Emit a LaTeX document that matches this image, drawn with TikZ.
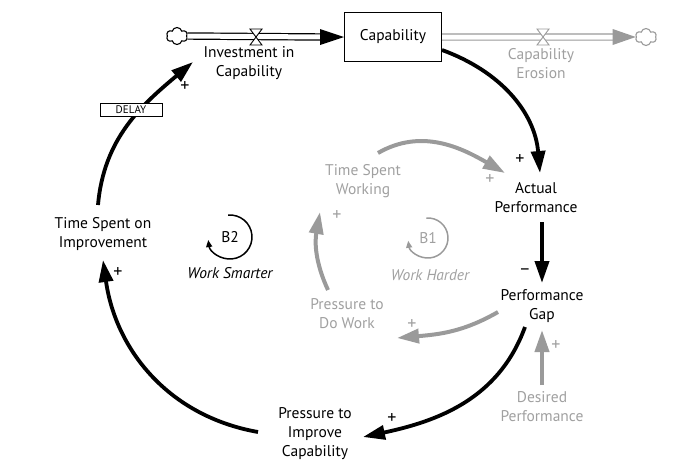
\documentclass[tikz,border=0pt]{standalone}
\usepackage{fontspec}
\setmainfont{PT Sans}
\usetikzlibrary{arrows.meta,calc,shapes.symbols}
\definecolor{gr}{HTML}{9A9A9A}
\definecolor{grt}{HTML}{A0A0A0}
\begin{document}
\begin{tikzpicture}[x=1pt,y=1pt,
 lbl/.style={align=center, font=\fontsize{15.5}{19}\selectfont, inner sep=1pt},
 glbl/.style={lbl, text=grt},
 blk/.style={line width=3.8pt, -{Triangle[length=22pt,width=14pt]}},
 gry/.style={line width=4pt, draw=gr, -{Triangle[length=22pt,width=14pt]}},
 sgn/.style={font=\fontsize{18}{18}\selectfont, inner sep=0pt},
 gsgn/.style={sgn, text=grt},
 pipe/.style={line width=1.2pt, double distance=5pt, double=white},
 cloudsym/.style={cloud, draw, cloud puffs=6, cloud puff arc=150, aspect=1.2, minimum width=21pt, minimum height=17pt, inner sep=0pt, line width=1.1pt, fill=white},
 loopar/.style={line width=1.5pt, -{Triangle[length=7pt,width=6pt]}}
]
\useasboundingbox (0,0) rectangle (689,-472);
% stock and flows
\node[lbl, draw, line width=1pt, minimum width=97pt, minimum height=49pt] (cap) at (393,-37) {Capability};
\node[cloudsym] (cl) at (177,-36) {};
\node[cloudsym, draw=gr] (cr) at (646,-37) {};
\draw[pipe] (cl.east) -- ($(cap.west)+(-22,0)$);
\fill ($(cap.west)+(-24,8)$) -- (cap.west) -- ($(cap.west)+(-24,-8)$) -- cycle;
\draw[pipe, draw=gr] (cap.east) -- ($(cr.west)+(-20,0)$);
\fill[gr] ($(cr.west)+(-23,8)$) -- (cr.west) -- ($(cr.west)+(-23,-8)$) -- cycle;
\coordinate (vl) at (256,-37);
\coordinate (vr) at (543,-37);
\draw[fill=white, line width=0.9pt] ($(vl)+(-6,8)$) -- ++(12,0) -- ($(vl)+(-6,-8)$) -- ++(12,0) -- cycle;
\draw[fill=white, draw=gr, line width=0.9pt] ($(vr)+(-6,8)$) -- ++(12,0) -- ($(vr)+(-6,-8)$) -- ++(12,0) -- cycle;
% labels
\node[lbl] (inv) at (249,-63) {Investment in\\Capability};
\node[glbl] (ero) at (541,-64) {Capability\\Erosion};
\node[lbl] (ap) at (536,-198) {Actual\\Performance};
\node[lbl] (pg) at (542,-306) {Performance\\Gap};
\node[glbl] (dp) at (542,-407) {Desired\\Performance};
\node[lbl] (pic) at (315,-434) {Pressure to\\Improve\\Capability};
\node[lbl] (tsi) at (103,-234) {Time Spent on\\Improvement};
\node[glbl] (tsw) at (363,-181) {Time Spent\\Working};
\node[glbl] (pdw) at (347,-314) {Pressure to\\Do Work};
% black links
\draw[blk] ($(cap)+(49,-13)$) to[out=-20,in=95] ($(ap)+(4,25)$);
\draw[blk] ($(ap)+(6,-24)$) -- ($(pg)+(0,23)$);
\draw[blk] ($(pg)+(-17,-21)$) to[out=-110,in=12] ($(pic)+(48,-3)$);
\draw[blk] ($(pic)+(-57,2)$) to[out=170,in=-82] ($(tsi)+(0,-26)$);
\draw[blk] ($(tsi)+(-5,29)$) to[out=85,in=-140] ($(inv)+(-56,1)$);
% gray links
\draw[gry] ($(dp)+(0,22)$) -- ($(pg)+(0,-24)$);
\draw[gry] ($(tsw)+(15,28)$) to[out=30,in=150] ($(ap)+(-31,25)$);
\draw[gry] ($(pg)+(-44,-6)$) to[out=-150,in=5] ($(pdw)+(50,-24)$);
\draw[gry] ($(pdw)+(-19,24)$) to[out=115,in=-100] ($(tsw)+(-43,-31)$);
% delay
\node[draw, fill=white, line width=0.8pt, minimum width=62pt, minimum height=13pt, inner sep=0pt, font=\fontsize{11}{11}\selectfont] (dl) at (131,-110) {DELAY};
% loops
\node[lbl] (b2) at (230,-237) {B2};
\draw[loopar] ($(b2)+(95:22)$) arc[start angle=95,end angle=-172,radius=22];
\node[lbl] (ws) at (230,-273) {\itshape Work Smarter};
\node[glbl] (b1) at (428,-238) {B1};
\draw[loopar, draw=gr] ($(b1)+(95:20)$) arc[start angle=95,end angle=-172,radius=20];
\node[glbl] (wh) at (430,-275) {\itshape Work Harder};
% signs
\node[sgn] (s1) at (185,-87) {+};
\node[sgn] (s2) at (520,-160) {+};
\node[gsgn] (s3) at (490,-180) {+};
\node[sgn] (s4) at (525,-272) {\textminus};
\node[gsgn] (s5) at (556,-345) {+};
\node[sgn] (s6) at (392,-418) {+};
\node[sgn] (s7) at (118,-273) {+};
\node[gsgn] (s8) at (412,-325) {+};
\node[gsgn] (s9) at (337,-216) {+};
\end{tikzpicture}
\end{document}
